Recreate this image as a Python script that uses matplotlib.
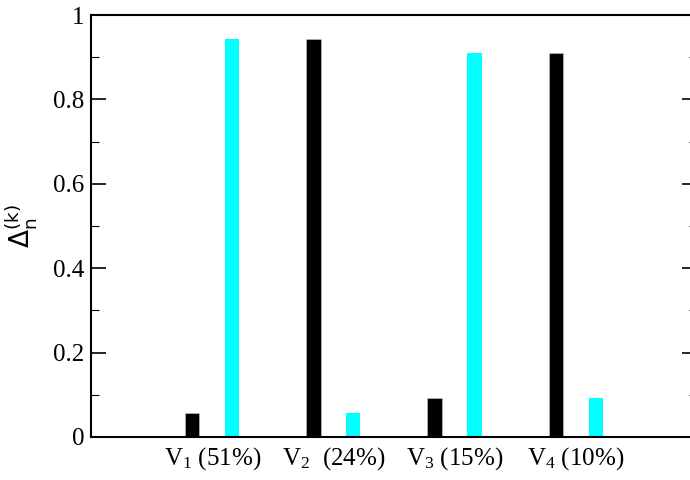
import matplotlib
matplotlib.use('Agg')
import matplotlib.pyplot as plt
from matplotlib.ticker import MultipleLocator
import numpy as np

# polices : serif pour les graduations, sans pour le label Delta
plt.rcParams['font.family'] = 'Liberation Serif'
plt.rcParams['mathtext.fontset'] = 'custom'
plt.rcParams['mathtext.rm'] = 'Liberation Serif'
plt.rcParams['mathtext.it'] = 'Liberation Serif:italic'
plt.rcParams['mathtext.sf'] = 'DejaVu Sans'

# donnees
etats = [r'V$_1$ (51%)', r'V$_2$  (24%)', r'V$_3$ (15%)', r'V$_4$ (10%)']
delta_noir = [0.058, 0.943, 0.092, 0.909]
delta_cyan = [0.943, 0.057, 0.909, 0.092]
yticks = [0, 0.2, 0.4, 0.6, 0.8, 1]
ylabels = ['0', '0.2', '0.4', '0.6', '0.8', '1']

x = np.arange(1, len(etats) + 1)
largeur = 0.117
decalage = 0.165

fig = plt.figure(figsize=(6.9, 4.8), dpi=100)
ax = fig.add_axes([0.132, 0.0896, 0.878, 0.879])

ax.bar(x - decalage, delta_noir, largeur, color='black', edgecolor='#cccccc', linewidth=0.4)
ax.bar(x + decalage, delta_cyan, largeur, color='#00ffff', linewidth=0)

ax.set_xlim(0, 5)
ax.set_ylim(0, 1)
ax.set_xticks(x)
ax.set_xticklabels(etats, fontsize=18)
ax.set_yticks(yticks)
ax.set_yticklabels(ylabels, fontsize=18)
ax.yaxis.set_minor_locator(MultipleLocator(0.1))

# graduations vers l'interieur, a gauche et a droite
ax.tick_params(axis='y', which='both', direction='in', left=True, right=True, pad=5)
ax.tick_params(axis='y', which='major', length=11, width=1.2)
ax.tick_params(axis='y', which='minor', length=6, width=0.8)
ax.tick_params(axis='x', which='both', length=0, pad=6)

for s in ax.spines.values():
    s.set_linewidth(1.5)

ax.set_ylabel(r'$\mathsf{\Delta_{n}^{(k)}}$', fontsize=19, labelpad=10)

plt.savefig('out.png', dpi=100)
